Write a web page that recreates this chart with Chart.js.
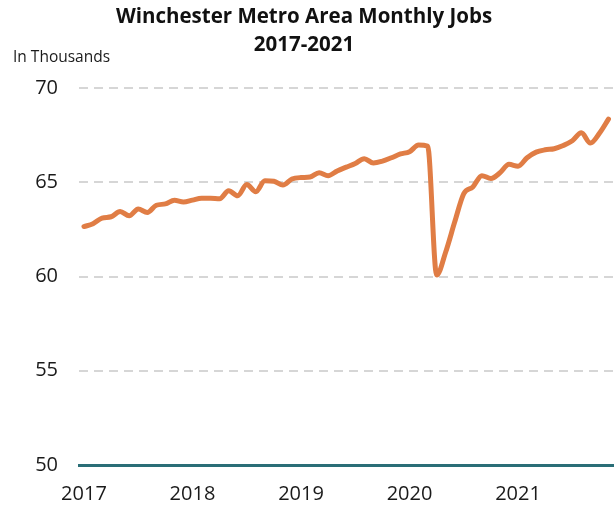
<!DOCTYPE html>
<html><head><meta charset="utf-8">
<script src="https://cdn.jsdelivr.net/npm/chart.js@4"></script>
<style>html,body{margin:0;padding:0;background:#fff}#wrap{position:relative;width:616px;height:512px}</style>
</head><body><div id="wrap"><canvas id="c" width="616" height="512"></canvas></div>
<script>
const months = [
 'Jan 2017','Feb 2017','Mar 2017','Apr 2017','May 2017','Jun 2017','Jul 2017','Aug 2017','Sep 2017','Oct 2017','Nov 2017','Dec 2017',
 'Jan 2018','Feb 2018','Mar 2018','Apr 2018','May 2018','Jun 2018','Jul 2018','Aug 2018','Sep 2018','Oct 2018','Nov 2018','Dec 2018',
 'Jan 2019','Feb 2019','Mar 2019','Apr 2019','May 2019','Jun 2019','Jul 2019','Aug 2019','Sep 2019','Oct 2019','Nov 2019','Dec 2019',
 'Jan 2020','Feb 2020','Mar 2020','Apr 2020','May 2020','Jun 2020','Jul 2020','Aug 2020','Sep 2020','Oct 2020','Nov 2020','Dec 2020',
 'Jan 2021','Feb 2021','Mar 2021','Apr 2021','May 2021','Jun 2021','Jul 2021','Aug 2021','Sep 2021','Oct 2021','Nov 2021'];
const jobs = [
 62.65,62.8,63.1,63.17,63.45,63.22,63.58,63.4,63.78,63.85,64.05,63.95,
 64.05,64.15,64.15,64.12,64.55,64.28,64.88,64.5,65.08,65.05,64.85,65.17,
 65.25,65.28,65.5,65.35,65.6,65.8,66.0,66.25,66.02,66.12,66.3,66.5,
 66.62,66.97,66.92,60.08,61.3,62.9,64.4,64.75,65.35,65.2,65.5,65.95,
 65.85,66.3,66.6,66.72,66.78,66.95,67.2,67.62,67.08,67.6,68.35];
const yearTickIndex = [0,12,24,36,48];
const yearLabels = ['2017','2018','2019','2020','2021'];
const yTicks = [50,55,60,65,70];
const titleLines = ['Winchester Metro Area Monthly Jobs','2017-2021'];
const unitLabel = 'In Thousands';

const textPlugin = {
  id: 'textPlugin',
  afterDraw(chart) {
    const ctx = chart.ctx;
    ctx.save();
    ctx.fillStyle = '#111';
    ctx.textAlign = 'center';
    ctx.textBaseline = 'middle';
    ctx.font = 'bold 20.5px "Open Sans"';
    ctx.fillText(titleLines[0], 304, 17);
    ctx.fillText(titleLines[1], 304, 45);
    ctx.textAlign = 'left';
    ctx.font = '15.5px "Open Sans"';
    ctx.fillStyle = '#1a1a1a';
    ctx.fillText(unitLabel, 13, 58);
    ctx.restore();
  }
};

new Chart(document.getElementById('c'), {
  type: 'line',
  data: {
    labels: months,
    datasets: [{
      data: jobs.map((v, i) => ({x: i, y: v})),
      borderColor: '#E07D45',
      borderWidth: 5,
      pointRadius: 0,
      cubicInterpolationMode: 'monotone',
      borderCapStyle: 'round',
      borderJoinStyle: 'round',
      fill: false
    }]
  },
  options: {
    responsive: false,
    animation: false,
    devicePixelRatio: 1,
    layout: {padding: {left: 13, right: 3, top: 88, bottom: 0}},
    plugins: {legend: {display: false}, tooltip: {enabled: false}, title: {display: false}},
    scales: {
      x: {
        type: 'linear',
        min: -0.55,
        max: 58.5,
        afterBuildTicks(scale) { scale.ticks = yearTickIndex.map(v => ({value: v})); },
        afterFit(scale) { scale.height = 47; },
        ticks: {
          callback(v) { const k = yearTickIndex.indexOf(v); return k >= 0 ? yearLabels[k] : ''; },
          font: {family: '"Open Sans"', size: 20},
          color: '#1a1a1a',
          padding: 17,
          maxRotation: 0,
          autoSkip: false
        },
        grid: {display: false, drawTicks: false},
        border: {display: true, color: '#2A6E77', width: 3}
      },
      y: {
        min: 50,
        max: 70,
        afterBuildTicks(scale) { scale.ticks = yTicks.map(v => ({value: v})); },
        afterFit(scale) { scale.width = 66; },
        ticks: {
          font: {family: '"Open Sans"', size: 20},
          color: '#1a1a1a',
          padding: 21
        },
        grid: {
          drawTicks: false,
          lineWidth: 2,
          color: ctx => ctx.tick && ctx.tick.value === 50 ? 'rgba(0,0,0,0)' : '#D6D6D6'
        },
        border: {display: false, dash: [9, 6]}
      }
    }
  },
  plugins: [textPlugin]
});
</script>
</body></html>
